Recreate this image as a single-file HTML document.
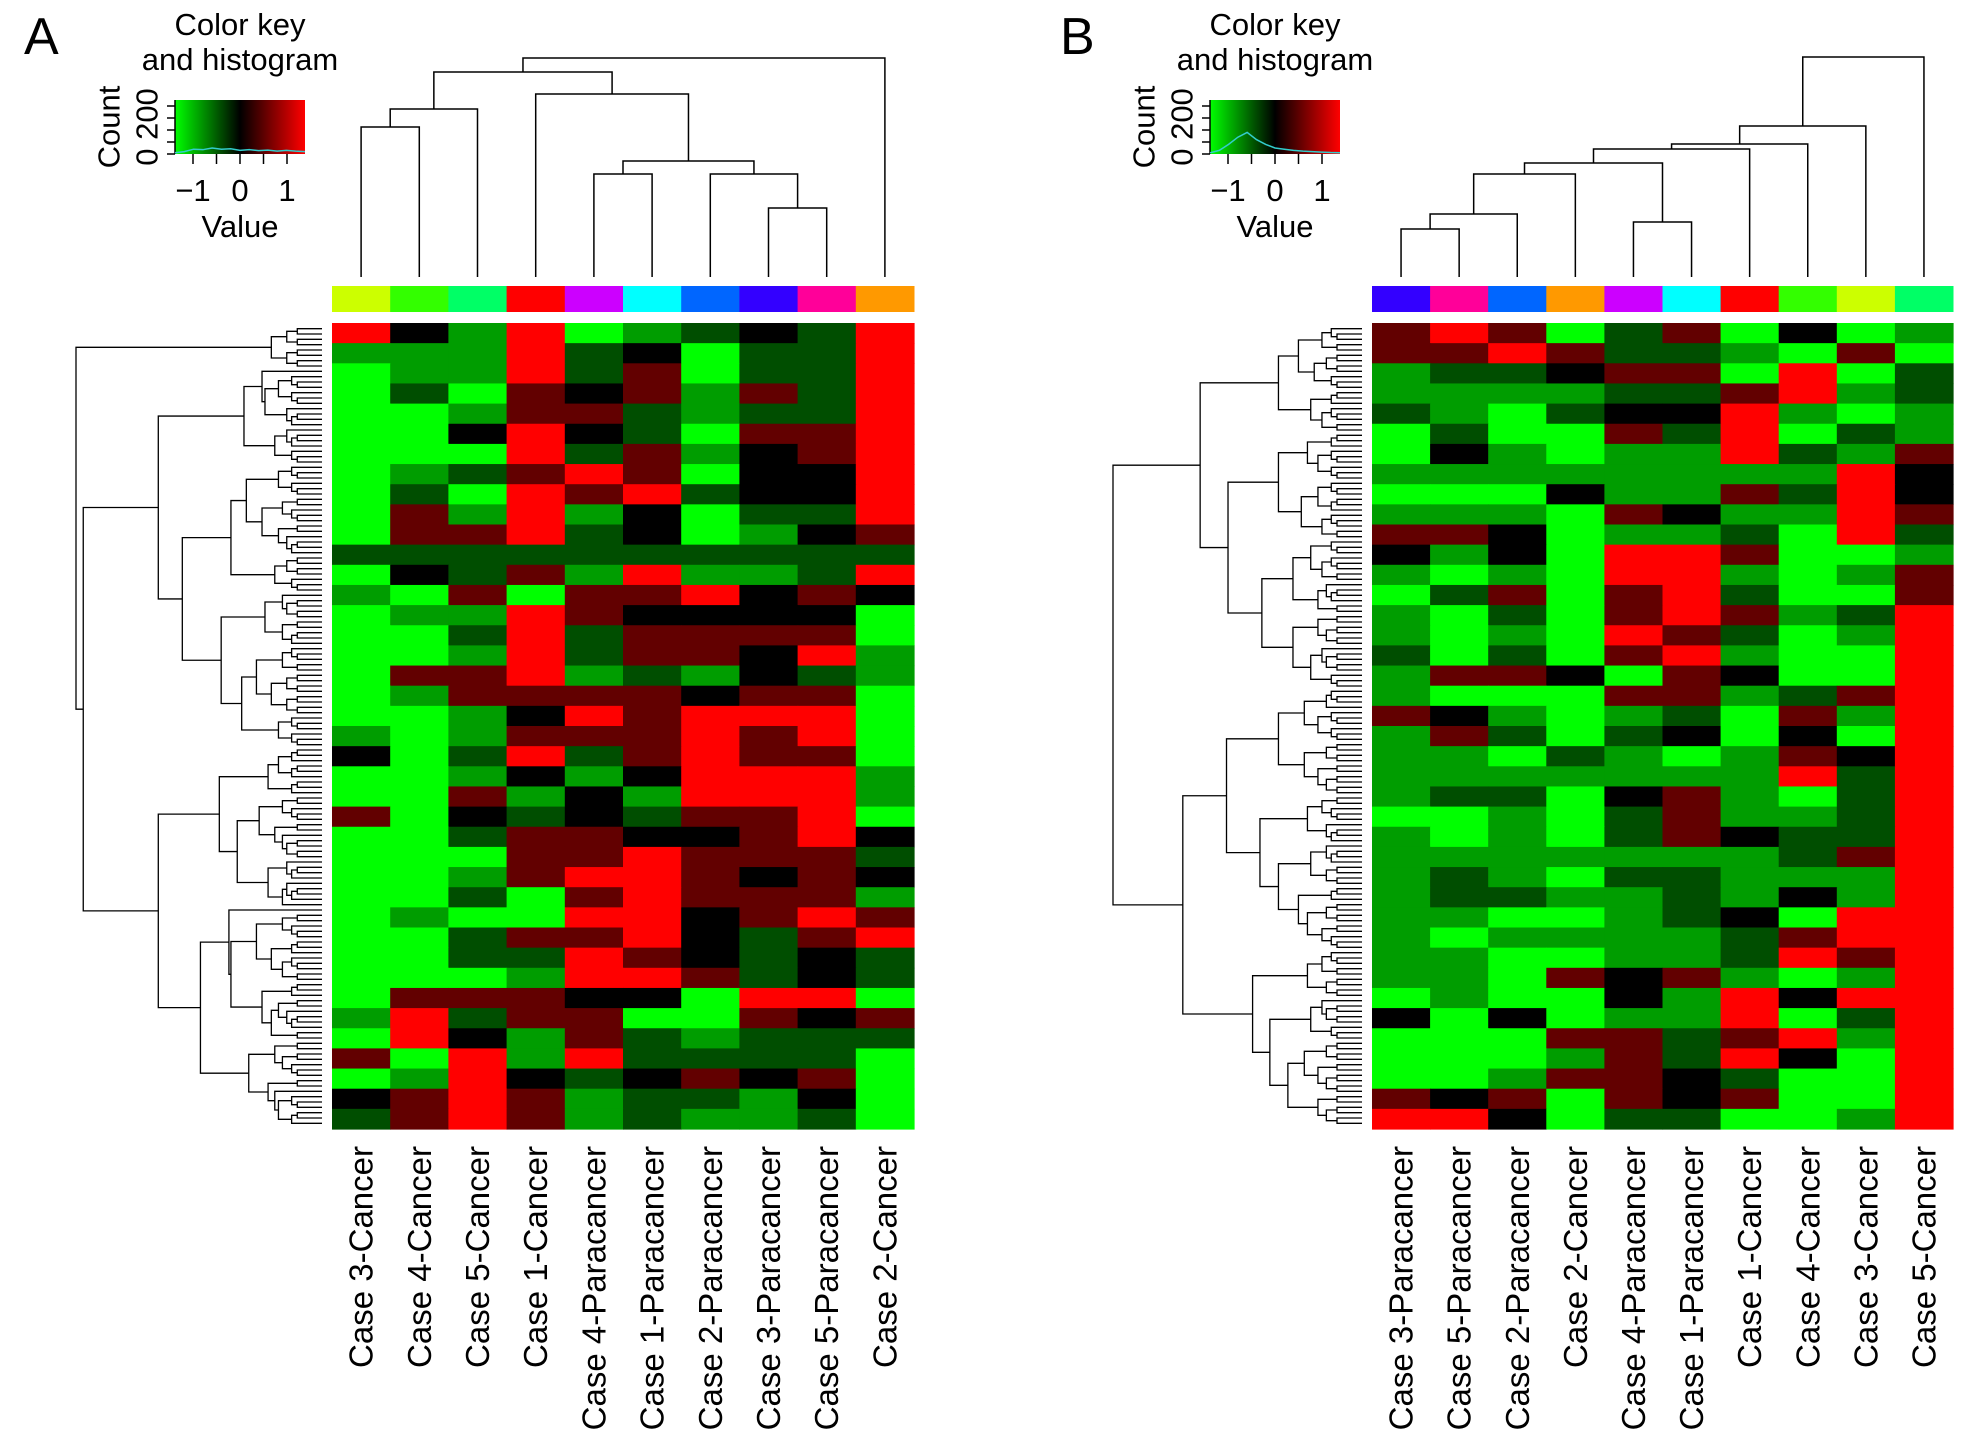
<!DOCTYPE html>
<html><head><meta charset="utf-8"><style>
html,body{margin:0;padding:0;background:#fff}
svg text{font-family:"Liberation Sans",Arial,sans-serif;fill:#000}
</style></head>
<body>
<svg id="fig" width="1976" height="1442" viewBox="0 0 1976 1442" xmlns="http://www.w3.org/2000/svg">
<rect width="1976" height="1442" fill="#fff"/>
</svg>
<script>
// ---- data ----
const levelChars = ['G','g','d','k','r','R'];
const levelValues = [-1.5,-0.8,-0.4,0,0.5,1.5];
const labelsA = ['Case 3-Cancer','Case 4-Cancer','Case 5-Cancer','Case 1-Cancer','Case 4-Paracancer','Case 1-Paracancer','Case 2-Paracancer','Case 3-Paracancer','Case 5-Paracancer','Case 2-Cancer'];
const labelsB = ['Case 3-Paracancer','Case 5-Paracancer','Case 2-Paracancer','Case 2-Cancer','Case 4-Paracancer','Case 1-Paracancer','Case 1-Cancer','Case 4-Cancer','Case 3-Cancer','Case 5-Cancer'];
const sideColorsA = ['#ccff00','#33ff00','#00ff66','#ff0000','#cc00ff','#00ffff','#0066ff','#3300ff','#ff0099','#ff9900'];
const sideColorsB = ['#3300ff','#ff0099','#0066ff','#ff9900','#cc00ff','#00ffff','#ff0000','#33ff00','#ccff00','#00ff66'];
const mergesA = [[0,1,127],[10,2,109],[7,8,208],[6,12,174],[4,5,174],[14,13,161],[3,15,94],[11,16,72],[17,9,58]];
const mergesB = [[0,1,229],[10,2,214],[11,3,174],[4,5,222],[12,13,163],[14,6,149],[15,7,144],[16,8,126],[17,9,57]];
const heatA = [
'RkgRGgdkdR','gggRdkGddR','GggRdrGddR','GdGrkrgrdR','GGgrrdgddR','GGkRkdGrrR','GGGRdrgkrR','GgdrRrGkkR','GdGRrRdkkR','GrgRgkGddR',
'GrrRdkGgkr','ddddddddddR'.slice(0,10),'GkdrgRggdR','gGrGrrRkrk','GggRrkkkkG','GGdRdrrrrG','GGgRdrrkRg','GrrRgdgkdg','GgrrrrkrrG','GGgkRrRRRG',
'gGgrrrRrRG','kGdRdrRrrG','GGgkgkRRRg','GGrgkgRRRg','rGkdkdrrRG','GGdrrkkrRk','GGGrrRrrrd','GGgrRRrkrk','GGdGrRrrrg','GgGGRRkrRr',
'GGdrrRkdrR','GGddRrkdkd','GGGgRRrdkd','GrrrkkGRRG','gRdrrGGrkr','GRkgrdgddd','rGRgRddddG','GgRkdkrkrG','krRrgddgkG','drRrgdggdG'];
const heatB = [
'rRrGdrGkGg','rrRrddgGrG','gddkrrGRGd','ggggddrRgd','dgGdkkRgGg','GdGGrdRGdg','GkgGggRdgr','ggggggggRk','GGGkggrdRk','gggGrkggRr',
'rrkGggdGRd','kgkGRRrGGg','gGgGRRgGgr','GdrGrRdGGr','gGdGrRrgdR','gGgGRrdGgR','dGdGrRgGGR','grrkGrkGGR','gGGGrrgdrR','rkgGgdGrgR',
'grdGdkGkGR','ggGdgGgrkR','gggggggRdR','gddGkrgGdR','GGgGdrggdR','gGgGdrkddR','gggggggdrR','gdgGddgggR','gddggdgkgR','ggGGgdkGRR',
'gGggggdrRR','ggGGggdRrR','ggGrkrgGgR','GgGGkgRkRR','kGkGggRGdR','GGGrrdrRgR','GGGgrdRkGR','GGgrrkdGGR','rkrGrkrGGR','RRkGddGGgR'];

// ---- helpers ----
const SVGNS='http://www.w3.org/2000/svg';
const fig=document.getElementById('fig');
function mk(tag,attrs,parent){const e=document.createElementNS(SVGNS,tag);for(const k in attrs)e.setAttribute(k,attrs[k]);(parent||fig).appendChild(e);return e;}
function valueOf(ch){return levelValues[levelChars.indexOf(ch)];}
function colorOf(v){const s=Math.min(1,Math.abs(v)/1.3);const c=Math.round(s*255);return v<0?`rgb(0,${c},0)`:`rgb(${c},0,0)`;}

function drawPanel(o){
  const g=mk('g',{});
  
  
  const n=o.labels.length, cw=(o.hx1-o.hx0)/n;
  const xScale=i=>o.hx0+cw*(i+0.5);
  const L=mk('text',{x:o.letterX,y:54,'font-size':52},g);L.textContent=o.letter;
  
  const kg=mk('g',{},g);
  
  const kx0=o.kx0,ky0=100,ky1=154;
  const gid='grad'+o.letter;
  const defs=mk('defs',{},kg);const lg=mk('linearGradient',{id:gid,x1:0,x2:1,y1:0,y2:0},defs);
  [[0,'#00ff00'],[0.5,'#000000'],[1,'#ff0000']].forEach(s=>mk('stop',{offset:s[0],'stop-color':s[1]},lg));
  mk('rect',{x:kx0,y:ky0,width:130,height:54,fill:`url(#${gid})`},kg);
  const vx=v=>kx0+65+v*47;
  const t1=mk('text',{x:kx0+65,y:35,'font-size':31,'text-anchor':'middle'},kg);t1.textContent='Color key';
  
  const t2=mk('text',{x:kx0+65,y:70,'font-size':31,'text-anchor':'middle'},kg);t2.textContent='and histogram';
  
  [-1,-0.5,0,0.5,1].forEach(v=>mk('line',{x1:vx(v),x2:vx(v),y1:ky1,y2:ky1+10,stroke:'#000','stroke-width':1.5},kg));
  [-1,0,1].forEach(v=>{const t=mk('text',{x:vx(v),y:201,'font-size':31,'text-anchor':'middle'},kg);t.textContent=v<0?'\u22121':String(v);
    });
  const tv=mk('text',{x:kx0+65,y:237,'font-size':31,'text-anchor':'middle'},kg);tv.textContent='Value';
  
  mk('line',{x1:kx0,x2:kx0,y1:ky0,y2:ky1,stroke:'#000','stroke-width':1.5},kg);
  [0,50,100,150,200].forEach(c=>{const y=ky1-c*0.24;mk('line',{x1:kx0-8,x2:kx0,y1:y,y2:y,stroke:'#000','stroke-width':1.5},kg);});
  const tc=mk('text',{x:0,y:0,'font-size':31,'text-anchor':'middle',transform:`translate(${kx0-66},127) rotate(-90)`,'dominant-baseline':'central'},kg);tc.textContent='Count';
  
  const t0=mk('text',{x:0,y:0,'font-size':31,'text-anchor':'middle',transform:`translate(${kx0-28},127) rotate(-90)`,'dominant-baseline':'central'},kg);t0.textContent='0 200';
  
  let pts=o.hist.map((c,i)=>`${kx0+i*130/(o.hist.length-1)},${ky1-c*0.24}`).join(' ');
  const hl=mk('polyline',{points:pts,fill:'none',stroke:'#33cccc','stroke-width':1.5},kg);
  
  const cd=mk('g',{},g);
  const nodeX=[],nodeY=[];for(let i=0;i<n;i++){nodeX.push(xScale(i));nodeY.push(277);}
  o.merges.forEach(m=>{const [a,b,h]=m;
    mk('path',{d:`M${nodeX[a]},${nodeY[a]}V${h}H${nodeX[b]}V${nodeY[b]}`,fill:'none',stroke:'#000','stroke-width':1.5},cd);
    nodeX.push((nodeX[a]+nodeX[b])/2);nodeY.push(h);});
  o.sideColors.forEach((c,i)=>{const r=mk('rect',{x:o.hx0+cw*i,y:286,width:cw+0.5,height:26,fill:c},g);
    });
  const hg=mk('g',{},g);
  const hy0=323,hy1=1129,nr=o.heat.length,rh=(hy1-hy0)/nr;
  o.heat.forEach((row,r)=>{for(let c=0;c<n;c++){const cell=mk('rect',{x:o.hx0+cw*c,y:hy0+rh*r,width:cw+0.6,height:rh+0.6,fill:colorOf(valueOf(row[c]))},hg);
    }});
  const rd=mk('g',{},g);
  const NL=150,leafX=o.hx0-10,rootX=o.rootX,ly=i=>hy0+3+(hy1-hy0-6)*(i+0.5)/NL;
  const fr=o.fracs;let k=0;
  function build(lo,hi){
    if(hi-lo===1){return [leafX,ly(lo)];}
    const size=hi-lo;let s=lo+Math.max(1,Math.min(size-1,Math.round(size*fr[k++%fr.length])));
    const A=build(lo,s),B=build(s,hi);
    const x=leafX-(leafX-rootX)*Math.pow(size/NL,0.55)-2;
    mk('path',{d:`M${A[0]},${A[1]}H${x}V${B[1]}H${B[0]}`,fill:'none',stroke:'#000','stroke-width':1.3},rd);
    return [x,(A[1]+B[1])/2];}
  build(0,NL);
  o.labels.forEach((t,i)=>{const e=mk('text',{x:0,y:0,'font-size':33,'text-anchor':'end','dominant-baseline':'central',transform:`translate(${xScale(i)},1146) rotate(-90)`},g);
    e.textContent=t;});
}
const histA=[5,10,20,18,25,20,22,15,18,14,16,12,15,12,10];
const histB=[5,15,40,70,90,60,40,25,20,15,12,10,8,6,5];
drawPanel({name:'panel-a',letter:'A',letterX:24,kx0:175,hx0:332,hx1:914,rootX:78,labels:labelsA,sideColors:sideColorsA,merges:mergesA,heat:heatA,hist:histA,fracs:[0.05,0.55,0.42,0.3,0.62,0.45,0.7,0.35,0.5,0.25,0.6]});
drawPanel({name:'panel-b',letter:'B',letterX:1060,kx0:1210,hx0:1372,hx1:1953,rootX:1115,labels:labelsB,sideColors:sideColorsB,merges:mergesB,heat:heatB,hist:histB,fracs:[0.45,0.3,0.6,0.4,0.52,0.35,0.65,0.28,0.5,0.58,0.42]});
</script>
</body></html>
